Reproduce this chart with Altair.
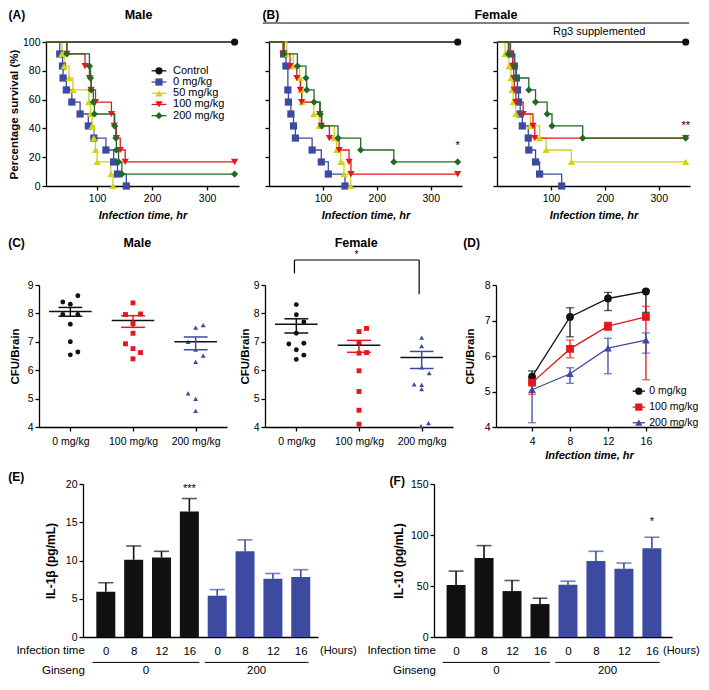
import json
import altair as alt
import pandas as pd

FONT = "Liberation Sans"
BLACK = "#111111"
BLUE = "#3c4b9f"
YELLOW = "#d2d21e"
RED = "#e3171d"
GREEN = "#1f6b23"

# ---------------- (A)/(B): survival curves ----------------
surv_series = ["Control", "0 mg/kg", "50 mg/kg", "100 mg/kg", "200 mg/kg"]
surv_colors = [BLACK, BLUE, YELLOW, RED, GREEN]
surv_shapes = ["circle", "square", "triangle-up", "triangle-down", "diamond"]

ctrl_t = [0, 350]
ctrl_s = [100, 100]

male_0_t = [0, 32, 37, 38, 44, 54, 69, 84, 94, 116, 130, 137, 153]
male_0_s = [100, 91.7, 83.3, 75, 66.7, 58.3, 50, 41.7, 33.3, 25, 16.7, 8.3, 0]
male_50_t = [0, 36, 40, 49, 56, 85, 88, 91, 94, 97, 100, 125, 129]
male_50_s = [100, 91.7, 83.3, 75, 66.7, 58.3, 50, 41.7, 33.3, 25, 16.7, 8.3, 0]
male_100_t = [0, 45, 78, 86, 89, 97, 126, 131, 135, 142, 151, 350]
male_100_s = [100, 91.7, 83.3, 75, 66.7, 58.3, 50, 41.7, 33.3, 25, 16.7, 16.7]
male_200_t = [0, 45, 86, 88, 89, 93, 95, 132, 134, 135, 139, 145, 350]
male_200_s = [100, 91.7, 83.3, 75, 66.7, 58.3, 50, 41.7, 33.3, 25, 16.7, 8.3, 8.3]

fem_0_t = [0, 27, 31.5, 35, 36, 40.6, 45.5, 49, 80, 97, 110, 141]
fem_0_s = [100, 91.7, 83.3, 66.7, 58.3, 50, 41.7, 33.3, 25, 16.7, 8.3, 0]
fem_50_t = [0, 33, 45, 57, 59, 61, 83, 93, 121, 125.5, 133, 139, 151.5]
fem_50_s = [100, 91.7, 83.3, 75, 66.7, 58.3, 50, 41.7, 33.3, 25, 16.7, 8.3, 0]
fem_100_t = [0, 26, 39, 51.5, 58, 60.6, 94, 97, 112, 130, 148.5, 152, 350]
fem_100_s = [100, 91.7, 83.3, 75, 66.7, 58.3, 50, 41.7, 33.3, 25, 16.7, 8.3, 8.3]
fem_200_t = [0, 28, 52.7, 68.5, 70, 83.6, 95, 98, 128, 170, 231.5, 350]
fem_200_s = [100, 91.7, 83.3, 75, 66.7, 58.3, 50, 41.7, 33.3, 25, 16.7, 16.7]

rg3_0_t = [0, 25, 32, 36, 38, 40, 43, 47, 58, 59, 71.5, 79, 120]
rg3_0_s = [100, 91.7, 83.3, 75, 66.7, 58.3, 50, 41.7, 33.3, 25, 16.7, 8.3, 0]
rg3_50_t = [0, 15, 22.4, 26, 28, 30, 35, 62, 79, 91, 138, 350]
rg3_50_s = [100, 91.7, 83.3, 75, 66.7, 58.3, 50, 41.7, 33.3, 25, 16.7, 16.7]
rg3_100_t = [0, 24, 29, 31, 32, 35, 48.5, 66.7, 70, 350]
rg3_100_s = [100, 91.7, 83.3, 75, 66.7, 58.3, 50, 41.7, 33.3, 33.3]
rg3_200_t = [0, 21, 33, 35, 59, 71.5, 93, 102, 159, 350]
rg3_200_s = [100, 91.7, 83.3, 75, 66.7, 58.3, 50, 41.7, 33.3, 33.3]

# legend of (A), placed inside the plot in data units
legA_s = [80, 72.2, 64.4, 56.6, 48.8]
legA_line = [199, 226]
legA_mark = 212.5
legA_text = 238

# ---------------- (C): CFU dot plots ----------------
dose_names = ["0 mg/kg", "100 mg/kg", "200 mg/kg"]
dose_colors = [BLACK, RED, BLUE]
dose_shapes = ["circle", "square", "triangle-up"]

cm_0 = [8.40, 8.32, 8.62, 7.96, 7.96, 7.62, 7.00, 6.54, 6.64]
cm_0_off = [-0.12, 0, 0.12, -0.12, 0.12, 0, 0, 0, 0.12]
cm_100 = [8.37, 7.96, 7.98, 7.64, 7.30, 6.93, 6.76, 6.62, 6.40]
cm_100_off = [0, -0.12, 0.12, 0, 0, -0.12, 0, 0.12, 0]
cm_200 = [7.50, 7.59, 7.00, 6.72, 6.51, 6.29, 5.18, 4.99, 4.57]
cm_200_off = [0, 0.12, -0.12, 0, 0.12, 0, -0.12, 0, 0]
cm_mean = [8.07, 7.75, 7.00]
cm_hi = [8.21, 7.92, 7.17]
cm_lo = [7.90, 7.51, 6.72]

cf_0 = [8.31, 7.95, 7.70, 7.30, 6.92, 6.95, 6.72, 6.53, 6.38]
cf_0_off = [0, 0, 0.12, 0, -0.12, 0.12, 0, 0.12, 0]
cf_100 = [7.47, 7.36, 6.97, 6.62, 6.60, 5.98, 5.25, 4.59, 4.10]
cf_100_off = [0.12, 0, 0, 0.12, 0, 0, 0, 0, 0]
cf_200 = [7.15, 6.85, 6.10, 5.90, 5.50, 5.48, 5.33, 4.03, 4.14]
cf_200_off = [0, 0, 0, 0.12, -0.12, 0, 0, -0.01, 0.11]
cf_mean = [7.62, 6.88, 6.45]
cf_hi = [7.81, 7.05, 6.66]
cf_lo = [7.31, 6.63, 6.06]

# significance bracket (0 vs 200 mg/kg, female)
br_x1 = [0.97, 0.97, 2.96]
br_x2 = [2.96, 0.97, 2.96]
br_y1 = [9.88, 9.41, 8.67]
br_y2 = [9.88, 9.88, 9.88]

# ---------------- (D): CFU time course ----------------
d_hours = [4, 8, 12, 16]
d_0 = [5.42, 7.10, 7.62, 7.82]
d_0_hi = [5.58, 7.36, 7.79, 7.86]
d_0_lo = [5.25, 6.54, 7.28, 7.23]
d_100 = [5.25, 6.20, 6.84, 7.10]
d_100_hi = [5.38, 6.45, 6.95, 7.40]
d_100_lo = [4.92, 5.95, 6.72, 5.33]
d_200 = [5.05, 5.50, 6.22, 6.45]
d_200_hi = [5.32, 5.67, 6.50, 6.65]
d_200_lo = [4.12, 5.23, 5.50, 6.08]
legD_m = [5.01, 4.56, 4.12]
legD_line = [14.6, 15.9]
legD_mark = 15.25
legD_text = 16.35

# ---------------- (E)/(F): cytokines ----------------
bar_hours = ["0", "8", "12", "16", "0", "8", "12", "16"]
bar_groups = ["0", "0", "0", "0", "200", "200", "200", "200"]
ginseng_groups = ["0", "200"]
ginseng_from = [-0.48, 3.55]
ginseng_to = [3.36, 7.28]
il1b = [5.9, 10.1, 10.4, 16.4, 5.4, 11.2, 7.6, 7.85]
il1b_err = [7.1, 11.9, 11.2, 18.1, 6.2, 12.7, 8.3, 8.8]
il10 = [51, 77.5, 45, 32.3, 51.3, 74.4, 66.8, 87]
il10_err = [64.6, 89.6, 55.4, 38, 54.7, 84, 72.5, 97.8]


def label(text, x, y, size=12, weight="bold", align="left", style="normal"):
    return alt.Chart(pd.DataFrame({"label": [text]})).mark_text(
        align=align, baseline="middle", fontSize=size, fontWeight=weight,
        fontStyle=style, color="black", font=FONT
    ).encode(x=alt.value(x), y=alt.value(y), text="label:N")


def spacer(w, h, top=None, bottom=None):
    # an empty cell; the first one of a row also fixes the row's vertical extent
    y0 = 10 if top is None else top
    y1 = 20 if bottom is None else bottom
    xpos = 0.5 if top is not None else w / 2
    return alt.Chart(pd.DataFrame({"z": [0]})).mark_rule(color="#ffffff", strokeWidth=1).encode(
        x=alt.value(xpos), y=alt.value(y0), y2=alt.value(y1)).properties(width=w, height=h)


# ---------- survival panel ----------
def surv_panel(pairs, xmin, ylabels, ytitle, extras, legend=False):
    rows = []
    for name, (ts, ss) in zip(surv_series, pairs):
        for i, (t, s) in enumerate(zip(ts, ss)):
            rows.append({"series": name, "t": t, "s": s, "mark": int(i > 0)})
    df = pd.DataFrame(rows)
    x = alt.X("t:Q", scale=alt.Scale(domain=[xmin, 358], clamp=True, nice=False, zero=False),
              axis=alt.Axis(values=[100, 200, 300], title="Infection time, hr",
                            titleFontStyle="italic", titleFontSize=11, titlePadding=6,
                            labelPadding=3))
    y = alt.Y("s:Q", scale=alt.Scale(domain=[0, 100], nice=False),
              axis=alt.Axis(values=[0, 20, 40, 60, 80, 100], labels=ylabels, title=ytitle,
                            titleFontSize=11.5, titlePadding=3))
    color = alt.Color("series:N", scale=alt.Scale(domain=surv_series, range=surv_colors), legend=None)
    shape = alt.Shape("series:N", scale=alt.Scale(domain=surv_series, range=surv_shapes), legend=None)
    base = alt.Chart(df)
    layers = [
        base.mark_line(interpolate="step-after", strokeWidth=1.3).encode(x=x, y=y, color=color),
        base.transform_filter("datum.mark == 1").mark_point(filled=True, size=52, opacity=1)
            .encode(x=x, y=y, color=color, shape=shape),
    ]
    if legend:
        leg = alt.Chart(pd.DataFrame({"series": surv_series, "s": legA_s}))
        layers += [
            leg.transform_calculate(t=str(legA_line[0]), t2=str(legA_line[1]))
               .mark_rule(strokeWidth=1.3).encode(x=x, x2="t2:Q", y=y, color=color),
            leg.transform_calculate(t=str(legA_mark)).mark_point(filled=True, size=52, opacity=1)
               .encode(x=x, y=y, color=color, shape=shape),
            leg.transform_calculate(t=str(legA_text)).mark_text(
                align="left", baseline="middle", fontSize=11, color="black")
               .encode(x=x, y=y, text="series:N"),
        ]
    for (txt, tt, ss) in extras:
        layers.append(alt.Chart(pd.DataFrame({"t": [tt], "s": [ss], "label": [txt]}))
                      .mark_text(fontSize=11, color="black").encode(x=x, y=y, text="label:N"))
    return layers


A_layers = surv_panel(
    [(ctrl_t, ctrl_s), (male_0_t, male_0_s), (male_50_t, male_50_s),
     (male_100_t, male_100_s), (male_200_t, male_200_s)],
    7, True, "Percentage survival (%)", [], legend=True)
A = alt.layer(*A_layers, label("(A)", -37.5, -27.5), label("Male", 92.6, -27.5, size=12.5, align="center")
              ).properties(width=193, height=144)

B1_layers = surv_panel(
    [(ctrl_t, ctrl_s), (fem_0_t, fem_0_s), (fem_50_t, fem_50_s),
     (fem_100_t, fem_100_s), (fem_200_t, fem_200_s)],
    0, False, None, [("*", 350, 28)])
B1 = alt.layer(
    *B1_layers, label("(B)", -6.5, -27.5), label("Female", 227, -27.5, size=12.5, align="center"),
    alt.Chart(pd.DataFrame({"z": [0]})).mark_rule(color="black", strokeWidth=1).encode(
        x=alt.value(-6.2), x2=alt.value(420.2), y=alt.value(-19)),
).properties(width=193, height=144)

B2_layers = surv_panel(
    [(ctrl_t, ctrl_s), (rg3_0_t, rg3_0_s), (rg3_50_t, rg3_50_s),
     (rg3_100_t, rg3_100_s), (rg3_200_t, rg3_200_s)],
    0, False, None, [("**", 350, 42)])
B2 = alt.layer(*B2_layers, label("Rg3 supplemented", 102.2, -10, size=11, weight="normal", align="center")
               ).properties(width=193, height=144)


# ---------- dot plots ----------
def dot_panel(vals, offs, means, his, los, ytitlepad, extras):
    rows = []
    for gi, (vs, os_) in enumerate(zip(vals, offs)):
        for v, o in zip(vs, os_):
            rows.append({"dose": dose_names[gi], "x": gi + 1 + o, "y": v})
    pts = pd.DataFrame(rows)
    stats = pd.DataFrame({"dose": dose_names, "pos": [1, 2, 3], "mean": means, "hi": his, "lo": los})
    x = alt.X("x:Q", scale=alt.Scale(domain=[0.5, 3.5], nice=False, zero=False),
              axis=alt.Axis(values=[1, 2, 3], labelExpr=json.dumps(dose_names) + "[datum.value - 1]",
                            title=None, labelPadding=5.5))
    y = alt.Y("y:Q", scale=alt.Scale(domain=[4, 9], nice=False, zero=False),
              axis=alt.Axis(values=[4, 5, 6, 7, 8, 9], title="CFU/Brain", titleFontSize=11.5,
                            titlePadding=ytitlepad))
    color = alt.Color("dose:N", scale=alt.Scale(domain=dose_names, range=dose_colors), legend=None)
    shape = alt.Shape("dose:N", scale=alt.Scale(domain=dose_names, range=dose_shapes), legend=None)
    st = alt.Chart(stats)
    layers = [
        alt.Chart(pts).mark_point(filled=True, size=24, opacity=1).encode(x=x, y=y, color=color, shape=shape),
        st.transform_calculate(x="datum.pos - 0.34", x2="datum.pos + 0.34", y="datum.mean")
          .mark_rule(color=BLACK, strokeWidth=1.5).encode(x=x, x2="x2:Q", y=y),
        st.transform_calculate(x="datum.pos", y="datum.lo", y2="datum.hi")
          .mark_rule(strokeWidth=1.5).encode(x=x, y=y, y2="y2:Q", color=color),
        st.transform_fold(["hi", "lo"], as_=["k", "v"])
          .transform_calculate(x="datum.pos - 0.19", x2="datum.pos + 0.19", y="datum.v")
          .mark_rule(strokeWidth=1.5).encode(x=x, x2="x2:Q", y=y, color=color),
    ]
    for e in extras:
        layers.append(e(x, y))
    return layers


def bracket(x, y):
    df = pd.DataFrame({"x": br_x1, "x2": br_x2, "y": br_y1, "y2": br_y2})
    return alt.Chart(df).mark_rule(color="black", strokeWidth=1.2).encode(x=x, x2="x2:Q", y=y, y2="y2:Q")


def bracket_star(x, y):
    return alt.Chart(pd.DataFrame({"x": [1.96], "y": [10.04], "label": ["*"]})).mark_text(
        fontSize=10, color="black").encode(x=x, y=y, text="label:N")


Cm = alt.layer(*dot_panel([cm_0, cm_100, cm_200], [cm_0_off, cm_100_off, cm_200_off],
                          cm_mean, cm_hi, cm_lo, 6.5, []),
               label("(C)", -30.8, -41.6), label("Male", 98.3, -42.5, size=12.5, align="center")
               ).properties(width=188, height=142)
Cf = alt.layer(*dot_panel([cf_0, cf_100, cf_200], [cf_0_off, cf_100_off, cf_200_off],
                          cf_mean, cf_hi, cf_lo, 3, [bracket, bracket_star]),
               label("Female", 91.2, -42.5, size=12.5, align="center")
               ).properties(width=188, height=142)

# ---------- time course ----------
drows = []
for name, m, hi, lo in zip(dose_names, [d_0, d_100, d_200], [d_0_hi, d_100_hi, d_200_hi],
                           [d_0_lo, d_100_lo, d_200_lo]):
    for h, a, b, c in zip(d_hours, m, hi, lo):
        drows.append({"dose": name, "h": h, "m": a, "hi": b, "lo": c})
ddf = pd.DataFrame(drows)
dx = alt.X("h:Q", scale=alt.Scale(domain=[0.2, 19.8], nice=False, zero=False),
           axis=alt.Axis(values=d_hours, title="Infection time, hr", titleFontStyle="italic",
                         titleFontSize=11, titlePadding=2.5, labelPadding=5.5))
dy = alt.Y("m:Q", scale=alt.Scale(domain=[4, 8], nice=False, zero=False),
           axis=alt.Axis(values=[4, 5, 6, 7, 8], title="CFU/Brain", titleFontSize=11.5, titlePadding=9))
dcol = alt.Color("dose:N", scale=alt.Scale(domain=dose_names, range=dose_colors), legend=None)
dshp = alt.Shape("dose:N", scale=alt.Scale(domain=dose_names, range=dose_shapes), legend=None)
db = alt.Chart(ddf)
dleg = alt.Chart(pd.DataFrame({"dose": dose_names, "m": legD_m}))
D = alt.layer(
    db.transform_calculate(m="datum.lo", m2="datum.hi").mark_rule(strokeWidth=1.3)
      .encode(x=dx, y=dy, y2="m2:Q", color=dcol),
    db.transform_fold(["hi", "lo"], as_=["k", "v"]).transform_calculate(m="datum.v")
      .mark_tick(orient="horizontal", size=8, thickness=1.3).encode(x=dx, y=dy, color=dcol),
    db.mark_line(strokeWidth=1.3).encode(x=dx, y=dy, color=dcol),
    db.mark_point(filled=True, size=60, opacity=1).encode(x=dx, y=dy, color=dcol, shape=dshp),
    dleg.transform_calculate(h=str(legD_line[0]), h2=str(legD_line[1])).mark_rule(strokeWidth=1.3)
        .encode(x=dx, x2="h2:Q", y=dy, color=dcol),
    dleg.transform_calculate(h=str(legD_mark)).mark_point(filled=True, size=52, opacity=1)
        .encode(x=dx, y=dy, color=dcol, shape=dshp),
    dleg.transform_calculate(h=str(legD_text)).mark_text(align="left", baseline="middle",
                                                         fontSize=10.5, color="black")
        .encode(x=dx, y=dy, text="dose:N"),
    label("(D)", -32.7, -41.6),
).properties(width=186, height=142)


# ---------- bar panels ----------
def bar_panel(vals, errs, ymax, yvals, ytitle, ytitlepad, xdom, star, star_v, hours_x, tag, tag_x, tag_y, w):
    df = pd.DataFrame({"i": list(range(8)), "grp": bar_groups, "v": vals, "e": errs})
    x = alt.X("i:Q", scale=alt.Scale(domain=xdom, nice=False, zero=False),
              axis=alt.Axis(values=list(range(8)), labelExpr=json.dumps(bar_hours) + "[datum.value]",
                            ticks=False, labelPadding=8, labelFontSize=11.5, title=None))
    y = alt.Y("v:Q", scale=alt.Scale(domain=[0, ymax], nice=False),
              axis=alt.Axis(values=yvals, title=ytitle, titleFontSize=12, titlePadding=ytitlepad))
    color = alt.Color("grp:N", scale=alt.Scale(domain=ginseng_groups, range=[BLACK, BLUE]), legend=None)
    b = alt.Chart(df)
    g = alt.Chart(pd.DataFrame({"grp": ginseng_groups, "g0": ginseng_from, "g1": ginseng_to}))
    return alt.layer(
        b.mark_bar(size=19).encode(x=x, y=y, color=color),
        b.transform_calculate(v2="datum.e").mark_rule(strokeWidth=1.6).encode(x=x, y=y, y2="v2:Q", color=color),
        b.transform_calculate(v="datum.e").mark_tick(orient="horizontal", size=15, thickness=1.6)
         .encode(x=x, y=y, color=color),
        alt.Chart(pd.DataFrame({"i": [7 if star == "*" else 3], "v": [star_v], "label": [star]}))
           .mark_text(fontSize=11, color="black").encode(x=x, y=y, text="label:N"),
        g.transform_calculate(i="datum.g0", i2="datum.g1").mark_rule(color="black", strokeWidth=1)
         .encode(x=x, x2="i2:Q", y=alt.value(178.4)),
        g.transform_calculate(i="(datum.g0 + datum.g1) / 2").mark_text(fontSize=11.5, color="black")
         .encode(x=x, y=alt.value(186.5), text="grp:N"),
        label("Infection time", 1.8, 167, size=11.5, weight="normal", align="right"),
        label("Ginseng", 1.8, 186.5, size=11.5, weight="normal", align="right"),
        label("(Hours)", hours_x, 167, size=11, weight="normal"),
        label(tag, tag_x, tag_y),
    ).properties(width=w, height=153)


E = bar_panel(il1b, il1b_err, 20, [0, 5, 10, 15, 20], "IL-1β (pg/mL)", 7.5, [-0.64, 7.44],
              "***", 19.3, 237, "(E)", -74.8, -7.5, 235)
F = bar_panel(il10, il10_err, 150, [0, 50, 100, 150], "IL-10 (pg/mL)", 4.5, [-0.61, 7.54],
              "*", 113, 229, "(F)", -44.4, -2.6, 238)

row0 = alt.hconcat(spacer(38, 144, -33.5, 183.5), A, spacer(30, 144), B1, spacer(35, 144), B2,
                   spacing=0, bounds="flush")
row1 = alt.hconcat(spacer(31, 142, -58.5, 179.5), Cm, spacer(38, 142), Cf, spacer(43, 142), D,
                   spacing=0, bounds="flush")
row2 = alt.hconcat(spacer(75, 153, -18.5, 192.5), E, spacer(116, 153), F,
                   spacing=0, bounds="flush")

chart = alt.vconcat(row0, row1, row2, spacing=0).properties(padding=0)
chart = chart.resolve_scale(color="independent", shape="independent")
chart = chart.configure(font=FONT).configure_view(stroke=None).configure_axis(
    grid=False, domainColor="black", domainWidth=1.3, tickColor="black", tickWidth=1.3, tickSize=4,
    labelColor="black", labelFont=FONT, labelFontSize=10.5, labelPadding=2, labelOverlap=False,
    titleColor="black", titleFont=FONT, titleFontWeight="bold",
)

chart.save("out.html", embed_options={"renderer": "svg", "actions": False})
